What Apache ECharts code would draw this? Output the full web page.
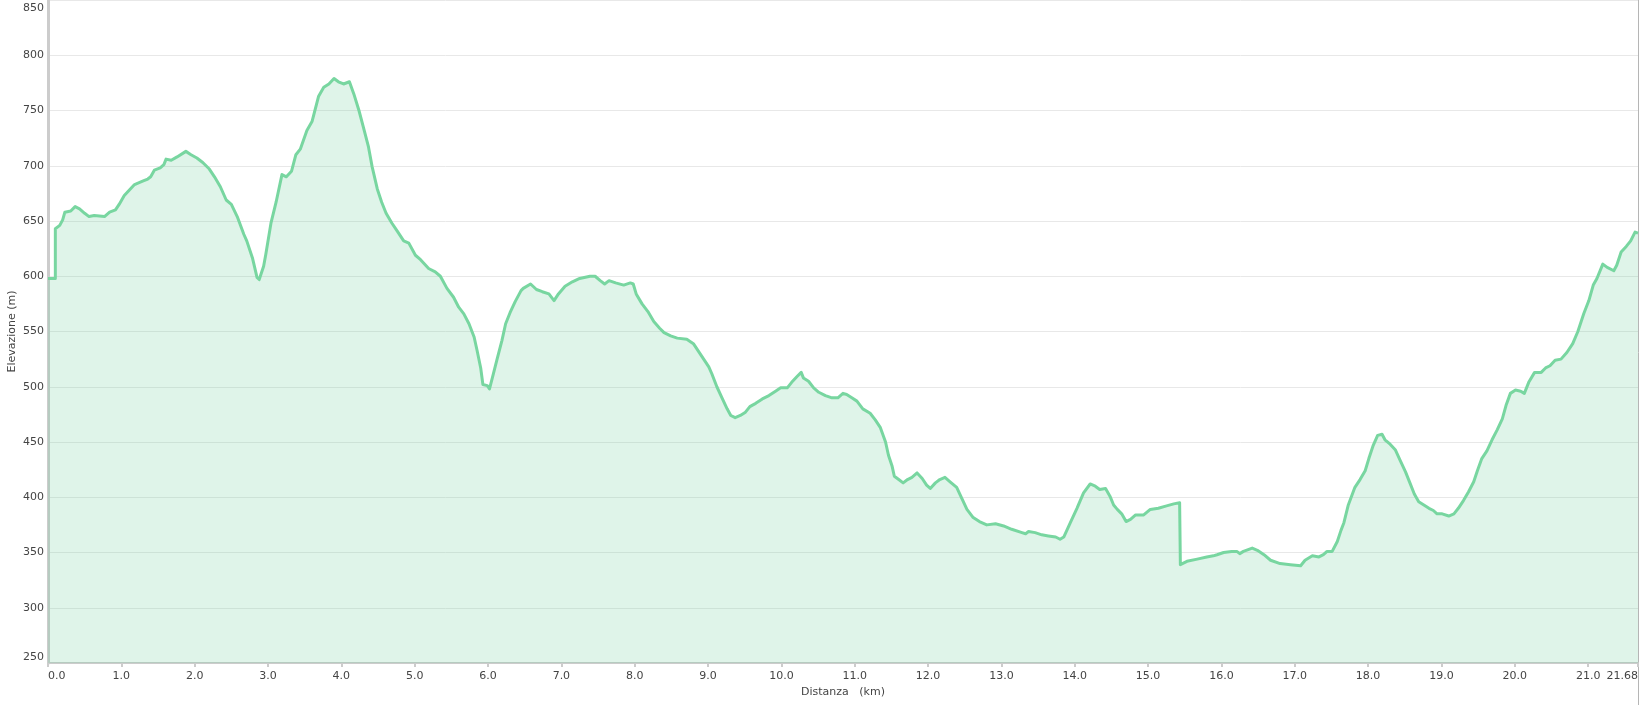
<!DOCTYPE html>
<html>
<head>
<meta charset="utf-8">
<script src="https://cdn.jsdelivr.net/npm/echarts@6/dist/echarts.min.js"></script>
<style>
html,body{margin:0;padding:0;background:#fff;}
#chart{width:1639px;height:705px;}
</style>
</head>
<body>
<div id="chart"></div>
<script>
const distanceKm = [0, 0.1, 0.1, 0.16, 0.2, 0.23, 0.31, 0.37, 0.43, 0.5, 0.56, 0.63, 0.77, 0.84, 0.92, 0.97, 1.04, 1.11, 1.18, 1.29, 1.36, 1.4, 1.45, 1.53, 1.58, 1.61, 1.68, 1.76, 1.88, 1.95, 2.03, 2.11, 2.2, 2.27, 2.35, 2.43, 2.5, 2.58, 2.67, 2.71, 2.79, 2.85, 2.88, 2.94, 2.97, 3.04, 3.11, 3.19, 3.25, 3.32, 3.38, 3.44, 3.53, 3.6, 3.69, 3.76, 3.83, 3.9, 3.96, 4.03, 4.11, 4.17, 4.24, 4.3, 4.37, 4.42, 4.49, 4.55, 4.61, 4.69, 4.76, 4.85, 4.92, 5.01, 5.08, 5.19, 5.28, 5.35, 5.44, 5.53, 5.6, 5.67, 5.74, 5.81, 5.85, 5.9, 5.93, 5.99, 6.02, 6.07, 6.12, 6.19, 6.24, 6.3, 6.37, 6.45, 6.48, 6.58, 6.66, 6.74, 6.83, 6.9, 6.96, 7.05, 7.15, 7.25, 7.39, 7.46, 7.53, 7.59, 7.65, 7.74, 7.85, 7.94, 7.98, 8.02, 8.1, 8.18, 8.26, 8.34, 8.4, 8.49, 8.58, 8.71, 8.8, 8.87, 8.94, 9.01, 9.05, 9.12, 9.19, 9.26, 9.31, 9.37, 9.44, 9.51, 9.57, 9.65, 9.74, 9.83, 9.92, 9.99, 10.08, 10.14, 10.21, 10.27, 10.3, 10.37, 10.44, 10.51, 10.6, 10.69, 10.77, 10.84, 10.89, 10.96, 11.03, 11.11, 11.21, 11.28, 11.35, 11.42, 11.46, 11.51, 11.54, 11.6, 11.66, 11.72, 11.78, 11.85, 11.92, 11.98, 12.03, 12.1, 12.16, 12.23, 12.3, 12.39, 12.46, 12.53, 12.61, 12.7, 12.8, 12.92, 13.03, 13.14, 13.28, 13.33, 13.37, 13.46, 13.55, 13.64, 13.74, 13.8, 13.85, 13.94, 14.03, 14.12, 14.21, 14.28, 14.34, 14.42, 14.48, 14.53, 14.58, 14.64, 14.7, 14.76, 14.83, 14.94, 15.03, 15.14, 15.24, 15.35, 15.43, 15.44, 15.53, 15.67, 15.8, 15.89, 15.94, 16.03, 16.14, 16.21, 16.25, 16.3, 16.42, 16.49, 16.58, 16.67, 16.8, 16.94, 17.08, 17.14, 17.24, 17.33, 17.39, 17.44, 17.51, 17.58, 17.63, 17.67, 17.73, 17.82, 17.89, 17.96, 18.01, 18.07, 18.13, 18.19, 18.23, 18.3, 18.37, 18.44, 18.51, 18.57, 18.63, 18.69, 18.76, 18.83, 18.89, 18.94, 19.01, 19.1, 19.17, 19.23, 19.3, 19.37, 19.44, 19.49, 19.55, 19.62, 19.69, 19.76, 19.83, 19.88, 19.94, 20.01, 20.08, 20.13, 20.19, 20.27, 20.36, 20.42, 20.48, 20.55, 20.63, 20.71, 20.79, 20.86, 20.94, 21.01, 21.07, 21.12, 21.2, 21.26, 21.35, 21.39, 21.45, 21.52, 21.58, 21.64, 21.68];

const elevationM = [598, 598, 643, 646, 651, 658, 659, 663, 661, 657, 654, 655, 654, 658, 660, 665, 673, 678, 683, 686, 688, 690, 696, 698, 701, 706, 705, 708, 713, 710, 707, 703, 697, 690, 681, 669, 665, 654, 638, 632, 616, 599, 597, 609, 620, 648, 667, 692, 690, 695, 710, 715, 732, 740, 763, 771, 774, 779, 776, 774, 776, 765, 750, 735, 717, 699, 679, 667, 657, 648, 641, 632, 630, 619, 615, 607, 604, 600, 589, 581, 572, 566, 557, 545, 533, 517, 502, 501, 498, 511, 524, 542, 557, 567, 577, 587, 589, 593, 588, 586, 584, 578, 584, 591, 595, 598, 600, 600, 596, 593, 596, 594, 592, 594, 593, 584, 575, 568, 559, 553, 549, 546, 544, 543, 539, 532, 525, 518, 512, 500, 490, 480, 474, 472, 474, 477, 482, 485, 489, 492, 496, 499, 499, 504, 509, 513, 508, 505, 499, 495, 492, 490, 490, 494, 493, 490, 487, 480, 476, 470, 463, 450, 438, 428, 419, 416, 413, 416, 418, 422, 417, 411, 408, 413, 416, 418, 414, 409, 399, 389, 382, 378, 375, 376, 374, 371, 368, 367, 369, 368, 366, 365, 364, 362, 364, 377, 390, 404, 412, 410, 407, 408, 401, 393, 389, 385, 378, 380, 384, 384, 389, 390, 392, 394, 395, 339, 342, 344, 346, 347, 348, 350, 351, 351, 349, 351, 354, 352, 348, 343, 340, 339, 338, 343, 347, 346, 348, 351, 351, 360, 370, 377, 393, 409, 416, 424, 435, 447, 456, 457, 452, 448, 443, 433, 423, 413, 403, 396, 393, 390, 388, 385, 385, 383, 385, 390, 397, 405, 414, 424, 435, 442, 452, 461, 471, 483, 494, 497, 496, 494, 504, 513, 513, 517, 519, 524, 525, 531, 539, 550, 566, 578, 592, 598, 611, 608, 605, 610, 622, 627, 632, 640, 639];

const xMin = 0, xMax = 21.68, xStep = 1;
const yMin = 250, yMax = 850, yStep = 50;
const xTitle = 'Distanza   (km)';
const yTitle = 'Elevazione (m)';

const points = distanceKm.map((d, i) => [d, elevationM[i]]);

const chart = echarts.init(document.getElementById('chart'), null, {renderer: 'canvas'});
const FONT = '"DejaVu Sans", Verdana, sans-serif';

chart.setOption({
  animation: false,
  backgroundColor: '#ffffff',
  grid: {left: 48, right: 1, top: 0, bottom: 42, containLabel: false, outerBoundsMode: 'none'},
  xAxis: {
    type: 'value',
    min: xMin, max: xMax, interval: xStep,
    name: xTitle,
    nameLocation: 'middle',
    nameGap: 24,
    nameMoveOverlap: false,
    nameTextStyle: {fontFamily: FONT, fontSize: 11, color: '#444'},
    axisLine: {show: true, lineStyle: {color: '#cccccc', width: 2}},
    axisTick: {show: true, length: 4, lineStyle: {color: '#cccccc', width: 2}},
    axisLabel: {
      fontFamily: FONT, fontSize: 11, color: '#444', margin: 8,
      alignMinLabel: 'left', alignMaxLabel: 'right',
      formatter: v => Number.isInteger(v) ? v.toFixed(1) : String(v)
    },
    splitLine: {show: false}
  },
  yAxis: {
    type: 'value',
    min: yMin, max: yMax, interval: yStep,
    name: yTitle,
    nameLocation: 'middle',
    nameGap: 30,
    nameMoveOverlap: false,
    nameTextStyle: {fontFamily: FONT, fontSize: 11, color: '#444'},
    axisLine: {show: true, lineStyle: {color: '#cccccc', width: 3}},
    axisTick: {show: false},
    axisLabel: {
      fontFamily: FONT, fontSize: 11, color: '#444', margin: 4,
      verticalAlignMinLabel: 'bottom', verticalAlignMaxLabel: 'top',
      padding: [3, 0, 0, 0]
    },
    splitLine: {show: true, lineStyle: {color: '#e8e8e8', width: 1}}
  },
  series: [{
    type: 'line',
    data: points,
    showSymbol: false,
    smooth: false,
    lineStyle: {color: '#78d6a0', width: 3, join: 'round'},
    areaStyle: {origin: 'start', color: 'rgba(105,205,150,0.21)', opacity: 1},
    silent: true
  }],
  graphic: [{
    type: 'line',
    shape: {x1: 1638.5, y1: 0, x2: 1638.5, y2: 705},
    style: {stroke: '#b5b5b5', lineWidth: 1},
    silent: true
  }]
});
</script>
</body>
</html>
